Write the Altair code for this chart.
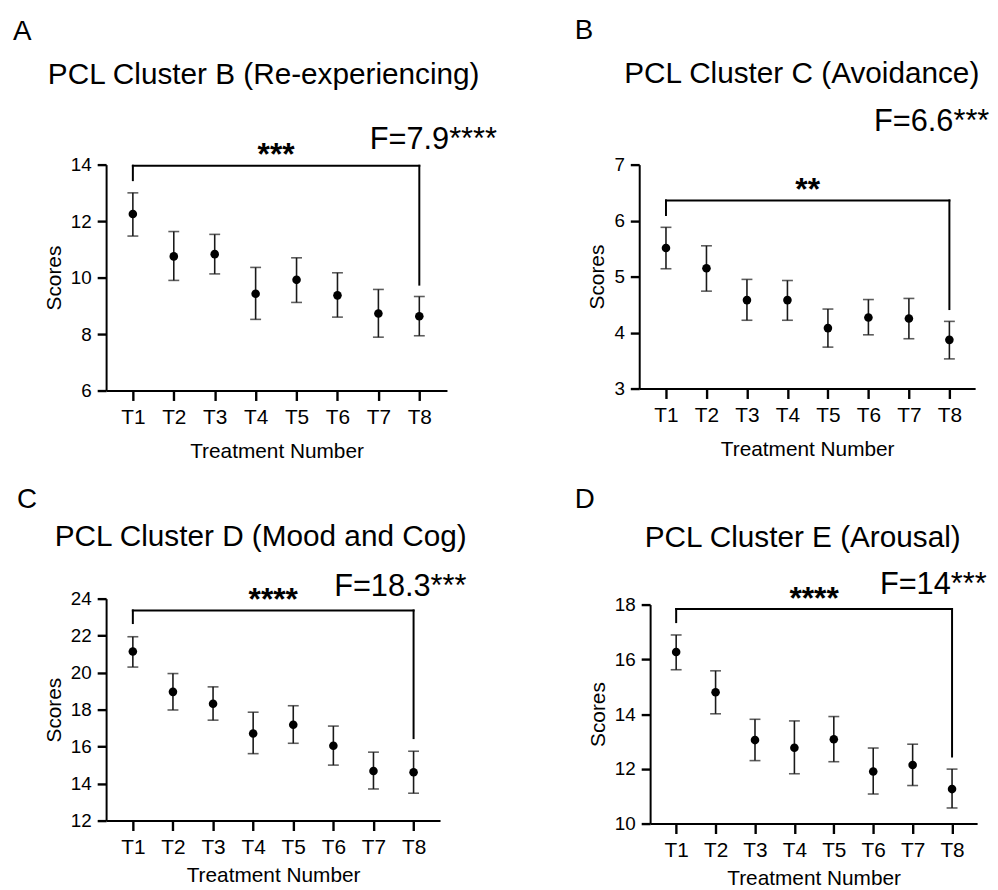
import altair as alt
import pandas as pd

FONT = "Liberation Sans"
treatments = [1, 2, 3, 4, 5, 6, 7, 8]

# Panel A - PCL Cluster B
a_mean = [12.25, 10.75, 10.83, 9.43, 9.92, 9.37, 8.73, 8.63]
a_upper = [13.00, 11.63, 11.53, 10.36, 10.70, 10.17, 9.58, 9.33]
a_lower = [11.47, 9.90, 10.13, 8.52, 9.12, 8.60, 7.89, 7.94]

# Panel B - PCL Cluster C
b_mean = [5.51, 5.15, 4.58, 4.58, 4.08, 4.27, 4.25, 3.87]
b_upper = [5.88, 5.55, 4.95, 4.93, 4.42, 4.59, 4.61, 4.20]
b_lower = [5.14, 4.74, 4.22, 4.22, 3.74, 3.96, 3.89, 3.53]

# Panel C - PCL Cluster D
c_mean = [21.14, 18.96, 18.32, 16.71, 17.18, 16.05, 14.68, 14.61]
c_upper = [21.94, 19.95, 19.23, 17.86, 18.21, 17.11, 15.70, 15.75]
c_lower = [20.30, 17.98, 17.43, 15.62, 16.18, 15.00, 13.71, 13.48]

# Panel D - PCL Cluster E
d_mean = [16.27, 14.80, 13.05, 12.77, 13.08, 11.90, 12.14, 11.26]
d_upper = [16.89, 15.58, 13.81, 13.75, 13.91, 12.76, 12.90, 11.99]
d_lower = [15.62, 14.01, 12.30, 11.82, 12.26, 11.08, 11.39, 10.57]

letters = ["A", "B", "C", "D"]
titles = ["PCL Cluster B (Re-experiencing)", "PCL Cluster C (Avoidance)",
          "PCL Cluster D (Mood and Cog)", "PCL Cluster E (Arousal)"]
y_domains = [[6, 14], [3, 7], [12, 24], [10, 18]]
y_ticks = [[6, 8, 10, 12, 14], [3, 4, 5, 6, 7], [12, 14, 16, 18, 20, 22, 24], [10, 12, 14, 16, 18]]
# bracket: top level, left leg end, right leg end
brackets = [[13.96, 13.45, 9.75], [6.36, 6.10, 4.42], [23.36, 22.68, 16.46], [17.84, 17.36, 12.45]]
stars = ["***", "**", "****", "****"]
stars_y = [13.97, 6.36, 23.39, 17.83]
f_texts = ["F=7.9****", "F=6.6***", "F=18.3***", "F=14***"]
f_x = [6.79, 6.14, 6.02, 6.17]
f_y = [14.57, 7.60, 24.14, 18.40]


def panel(i, mean, upper, lower, xdom, w, h, letter_pos, title_pos, marker_dx, xtitle_pad):
    df = pd.DataFrame({"t": treatments, "mean": mean, "hi": upper, "lo": lower})
    xs = alt.Scale(domain=xdom, nice=False, zero=False)
    ys = alt.Scale(domain=y_domains[i], nice=False, zero=False)
    common = dict(domainColor="black", domainWidth=2, ticks=True, tickColor="black", tickWidth=2.4,
                  tickOpacity=1, labelColor="black", titleColor="black", labelFont=FONT, titleFont=FONT,
                  titleFontWeight="normal", grid=False, titleFontSize=21, zindex=1)
    xax = alt.Axis(values=treatments, labelExpr="'T' + datum.value", title="Treatment Number",
                   titlePadding=xtitle_pad, labelFontSize=21, labelPadding=6, labelAngle=0,
                   tickSize=10, **common)
    yax = alt.Axis(values=y_ticks[i], title="Scores", labelFontSize=19, labelPadding=6,
                   titlePadding=6, tickSize=9, **common)

    def X(f="t"):
        return alt.X(f"{f}:Q", scale=xs, axis=xax)

    def Y(f):
        return alt.Y(f"{f}:Q", scale=ys, axis=yax)

    base = alt.Chart(df)
    err = base.mark_rule(color="#1a1a1a", strokeWidth=1.6).encode(x=X(), y=Y("lo"), y2="hi")
    cap_hi = base.mark_tick(orient="horizontal", size=11, thickness=1.6, color="#1a1a1a").encode(x=X(), y=Y("hi"))
    cap_lo = base.mark_tick(orient="horizontal", size=11, thickness=1.6, color="#1a1a1a").encode(x=X(), y=Y("lo"))
    pts = base.mark_circle(size=75, color="black", opacity=1).encode(x=X(), y=Y("mean"))

    top, lb, rb = brackets[i]
    br = pd.DataFrame({"t": [1, 1, 8], "t2": [8, 1, 8], "y1": [top, top, top], "y2": [top, lb, rb]})
    bracket = alt.Chart(br).mark_rule(color="black", strokeWidth=2, strokeCap="square").encode(
        x=X(), x2="t2", y=Y("y1"), y2="y2")

    sdf = pd.DataFrame({"t": [4.5], "v": [stars_y[i]], "s": [stars[i]]})
    star_txt = alt.Chart(sdf).mark_text(font=FONT, fontSize=32, fontWeight="bold", align="center",
                                        baseline="alphabetic", color="black").encode(x=X(), y=Y("v"), text="s")
    fdf = pd.DataFrame({"t": [f_x[i]], "v": [f_y[i]], "s": [f_texts[i]]})
    f_txt = alt.Chart(fdf).mark_text(font=FONT, fontSize=31, align="left", baseline="alphabetic",
                                     color="black").encode(x=X(), y=Y("v"), text="s")

    ldf = pd.DataFrame({"s": [letters[i]]})
    letter = alt.Chart(ldf).mark_text(font=FONT, fontSize=28, align="left", baseline="alphabetic",
                                      color="black").encode(x=alt.value(letter_pos[0]), y=alt.value(letter_pos[1]), text="s")
    tdf = pd.DataFrame({"s": [titles[i]]})
    title = alt.Chart(tdf).mark_text(font=FONT, fontSize=30, align="center", baseline="alphabetic",
                                     color="black").encode(x=alt.value(title_pos[0]), y=alt.value(title_pos[1]), text="s")
    layers = [err, cap_hi, cap_lo, pts, bracket, star_txt, f_txt, letter, title]
    if marker_dx is not None:
        marker = alt.Chart(ldf).mark_rule(opacity=0, strokeWidth=1).encode(
            x=alt.value(marker_dx), y=alt.value(0), y2=alt.value(1))
        layers.append(marker)
    return alt.layer(*layers).properties(width=w, height=h)


pA = panel(0, a_mean, a_upper, a_lower, [0.346, 8.676], 344, 228, (-94, -126), (159, -81), 418, 14)
pB = panel(1, b_mean, b_upper, b_lower, [0.339, 8.636], 339, 226, (-65, -127), (164, -82), None, 14)
pC = panel(2, c_mean, c_upper, c_lower, [0.333, 8.660], 337, 224, (-90, -91), (156, -53), 422, 7)
pD = panel(3, d_mean, d_upper, d_lower, [0.339, 8.636], 330, 221, (-76, -97), (154, -58), None, 7)

chart = alt.concat(
    pA, pB, pC, pD, columns=2, align="none", spacing={"row": 25, "column": 51}
).properties(
    padding={"left": 5, "top": 5, "right": 0, "bottom": 0}
).configure_view(stroke=None)

chart.save("out.html", embed_options={"renderer": "svg", "actions": False})
